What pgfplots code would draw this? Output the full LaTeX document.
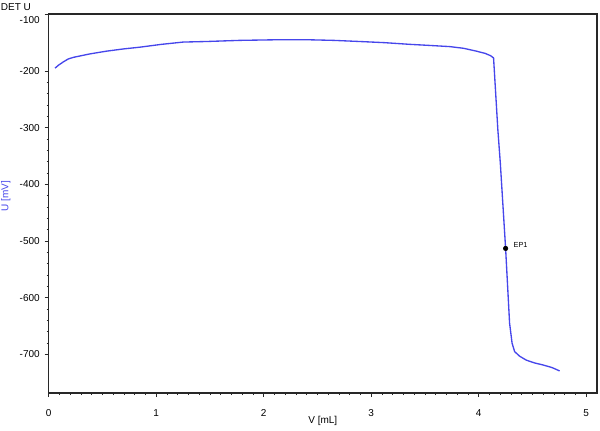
\documentclass[border=0pt]{standalone}
\usepackage{pgfplots}
\pgfplotsset{compat=1.18}
\usepackage{fontspec}
\setmainfont{Liberation Sans}

\definecolor{curve}{RGB}{70,70,235}
\definecolor{frame}{RGB}{40,40,40}

\begin{document}
\begin{tikzpicture}[font=\fontsize{7.5}{9}\selectfont]
  % picture = 600 x 430 px at 0.75 pt per px
  \useasboundingbox (-36.5pt,-27.75pt) rectangle (413.5pt,294.75pt);
  \begin{axis}[
      scale only axis,
      width=411.25pt,
      height=284.25pt,
      xmin=0, xmax=5.1,
      ymin=-768, ymax=-99.5,
      xtick={0,1,2,3,4,5},
      ytick={-700,-600,-500,-400,-300,-200},
      extra y ticks={-100},
      extra y tick style={yticklabel style={anchor=north east, yshift=-1.5pt}},
      minor x tick num=9,
      minor y tick num=4,
      xtick pos=bottom,
      ytick pos=left,
      tick align=outside,
      major tick length=3pt,
      minor tick length=1.6pt,
      every tick/.style={frame, line width=0.6pt},
      axis line style={frame, line width=1pt},
      /pgf/number format/assume math mode=true,
      yticklabel style={anchor=east, inner sep=0pt, xshift=-3.5pt},
      xticklabel style={anchor=center, inner sep=0pt, yshift=-12pt},
      xlabel={V [mL]},
      ylabel={\textcolor{curve}{U [mV]}},
      xlabel style={at={(axis description cs:0.5,0)}, anchor=center, yshift=-21pt},
      ylabel style={at={(axis description cs:-0.078,0.52)}, anchor=center},
      clip=false,
    ]
    \addplot[curve, line width=1pt] coordinates {
      (0.059,-195) (0.09,-190) (0.136,-184) (0.18,-179) (0.229,-176)
      (0.38,-170) (0.539,-165) (0.70,-161) (0.849,-158) (1.05,-153)
      (1.251,-149) (1.468,-148) (1.778,-146) (2.10,-145) (2.428,-145)
      (2.65,-146) (2.893,-148) (3.12,-150) (3.358,-153) (3.55,-155)
      (3.730,-157) (3.86,-160) (3.978,-165) (4.06,-169) (4.11,-173)
      (4.138,-177) (4.178,-304) (4.201,-363) (4.250,-513) (4.287,-645)
      (4.31,-680) (4.334,-695) (4.38,-703) (4.442,-710) (4.52,-715)
      (4.597,-718.5) (4.68,-723) (4.752,-729)
    };
    \addplot[only marks, mark=*, mark size=1.7pt, black] coordinates {(4.250,-513)}
      node[anchor=west, xshift=2.5pt, yshift=2.5pt, font=\fontsize{5.5}{6}\selectfont] {EP1};
    \node[anchor=west, xshift=-36.5pt, yshift=5.25pt, inner sep=0.5pt] at (rel axis cs:0,1) {DET U};
  \end{axis}
\end{tikzpicture}
\end{document}
